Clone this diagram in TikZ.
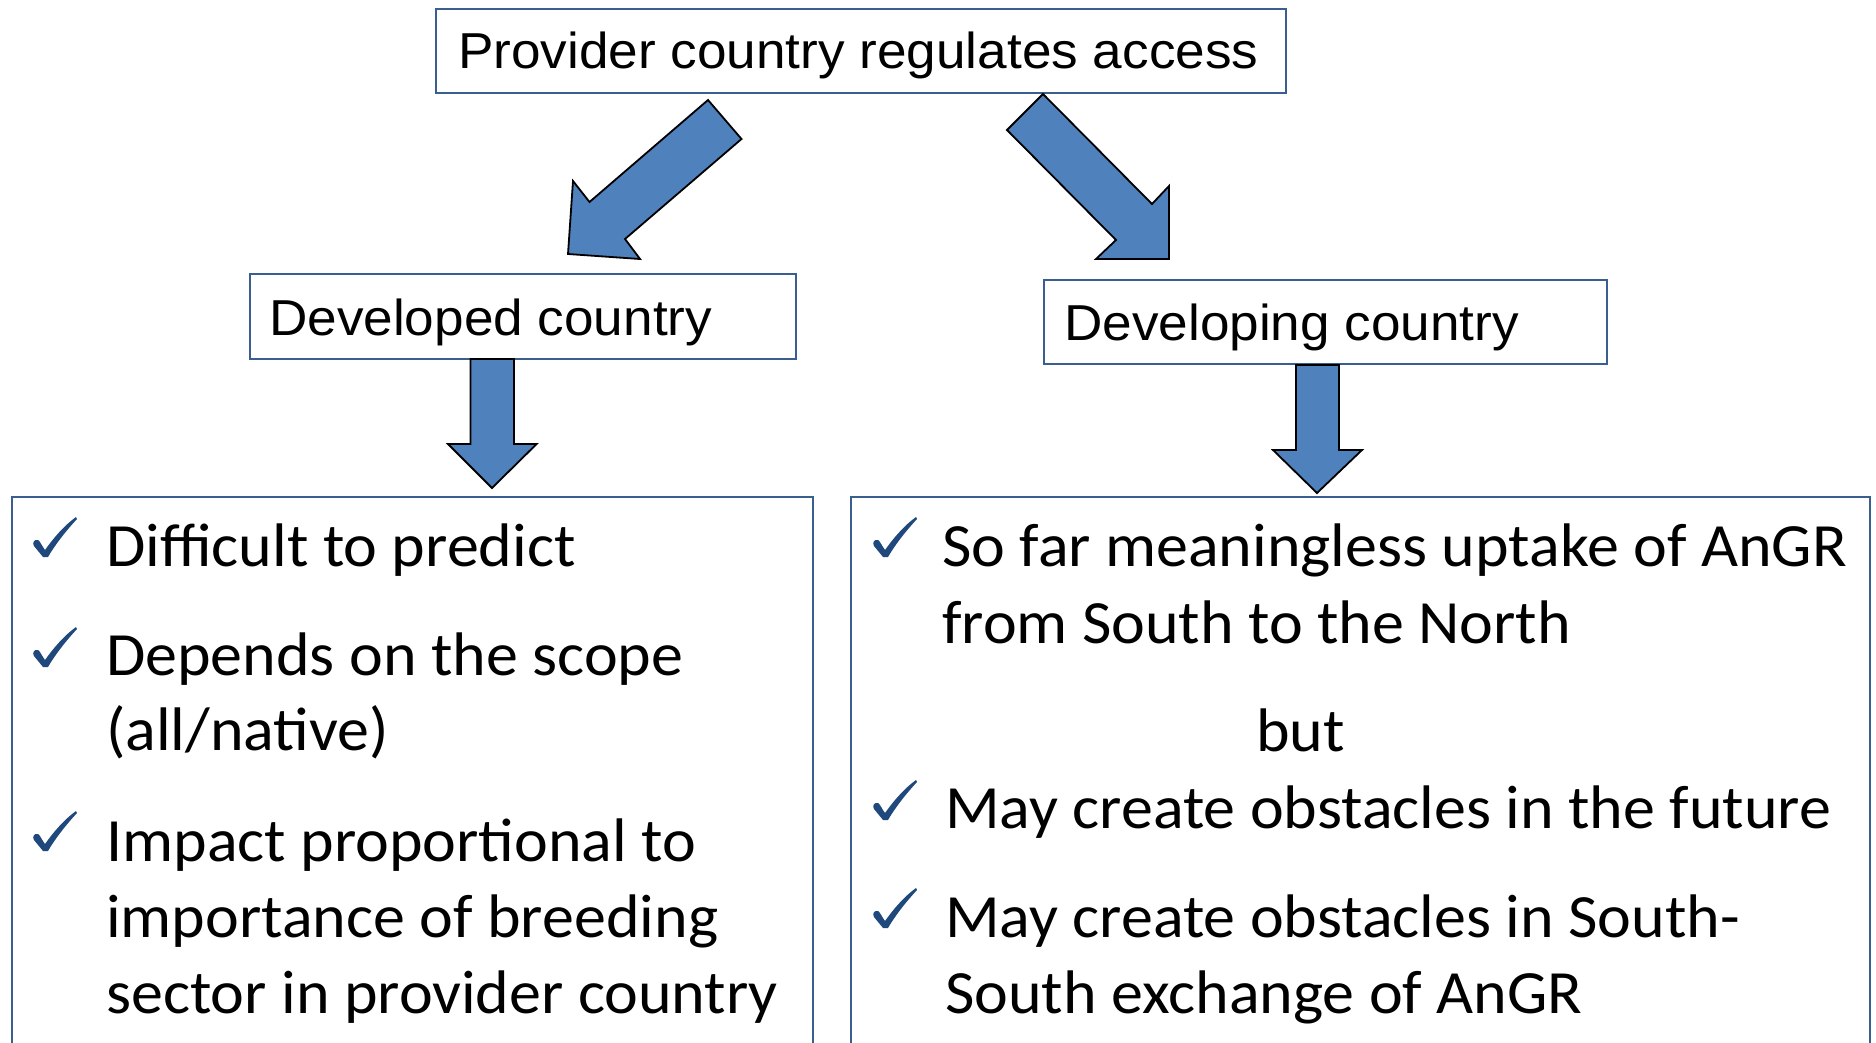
\documentclass[tikz,border=0pt]{standalone}
\usepackage{fontspec}
\setmainfont{Carlito}[FakeStretch=1.04]
\newfontfamily\arialf{Liberation Sans}[FakeStretch=1.052]
\definecolor{boxblue}{HTML}{3A5F8F}
\definecolor{arrowblue}{HTML}{4F81BD}
\definecolor{chkblue}{HTML}{1F497D}
\tikzset{
  boxline/.style={draw=boxblue, line width=2pt},
  hbox/.style={boxline, fill=white, inner sep=0pt, anchor=north west},
  blockarrow/.style={fill=arrowblue, draw=black, line width=1.8pt, line join=miter},
  headtxt/.style={inner sep=0pt, anchor=base west, font=\arialf\fontsize{50.5}{60}\selectfont},
  bodytxt/.style={inner sep=0pt, anchor=base west, font=\fontsize{61.5}{74}\selectfont},
  chk/.pic={\fill[chkblue] (0,0) -- (-9,-11) .. controls (-11,-14) and (-9,-18) .. (-5,-17) .. controls (-3,-16) and (-1,-11) .. (2,-7) .. controls (12,-21) and (22,-32) .. (33,-40) -- (34,-38) .. controls (22,-25) and (12,-12) .. (5,0) -- cycle;}
}
\begin{document}
\begin{tikzpicture}[x=1pt,y=-1pt]
\useasboundingbox (0,0) rectangle (1876,1042);
\clip (0,0) rectangle (1876,1042);
\fill[white] (0,0) rectangle (1876,1042);

% header boxes
\node[hbox, minimum width=850pt, minimum height=84pt] (top) at (435,8) {};
\node[hbox, minimum width=546pt, minimum height=85pt] (dved) at (249,273) {};
\node[hbox, minimum width=563pt, minimum height=84pt] (dving) at (1043,279) {};

% bottom boxes (open at the bottom)
\coordinate (lbTL) at (12,497);
\coordinate (lbTR) at (813,497);
\coordinate (rbTL) at (851,497);
\coordinate (rbTR) at (1870,497);
\draw[boxline] (lbTL |- 0,1060) -- (lbTL) -- (lbTR) -- (lbTR |- 0,1060);
\draw[boxline] (rbTL |- 0,1060) -- (rbTL) -- (rbTR) -- (rbTR |- 0,1060);

% texts
\node[headtxt] (ttop) at (458,68) {Provider country regulates access};
\node[headtxt] (tdved) at (269,335) {Developed country};
\node[headtxt] (tdving) at (1064,340) {Developing country};

% block arrows
\draw[blockarrow] (708,100) -- (741.5,139) -- (625,239) -- (640,259) -- (568,254) -- (573,181) -- (589.5,202) -- cycle;
\draw[blockarrow] (1043,94) -- (1152,204) -- (1169,186) -- (1169,259) -- (1096,259) -- (1116,240) -- (1007,130) -- cycle;
\draw[blockarrow] (470.5,359) -- (514,359) -- (514,444) -- (536.6,444) -- (492,488) -- (448,444) -- (470.5,444) -- cycle;
\draw[blockarrow] (1296,365) -- (1339,365) -- (1339,450) -- (1362,450) -- (1317,493) -- (1273,450) -- (1296,450) -- cycle;

% left list
\pic at (43,557) {chk};
\node[bodytxt] (l1) at (106,566) {Difficult to predict};
\pic at (43,667) {chk};
\node[bodytxt] (l2a) at (106,675) {Depends on the scope};
\node[bodytxt] (l2b) at (106,750) {(all/native)};
\pic at (43,851) {chk};
\node[bodytxt] (l3a) at (106,861) {Impact proportional to};
\node[bodytxt] (l3b) at (106,937) {importance of breeding};
\node[bodytxt] (l3c) at (106,1013) {sector in provider country};

% right list
\pic at (883,557) {chk};
\node[bodytxt] (r1a) at (942,566) {So far meaningless uptake of AnGR};
\node[bodytxt] (r1b) at (942,643) {from South to the North};
\node[bodytxt] (rbut) at (1256,751) {but};
\pic at (883,820) {chk};
\node[bodytxt] (r2) at (945,828) {May create obstacles in the future};
\pic at (883,928) {chk};
\node[bodytxt] (r3a) at (945,937) {May create obstacles in South-};
\node[bodytxt] (r3b) at (945,1013) {South exchange of AnGR};
\end{tikzpicture}
\end{document}
